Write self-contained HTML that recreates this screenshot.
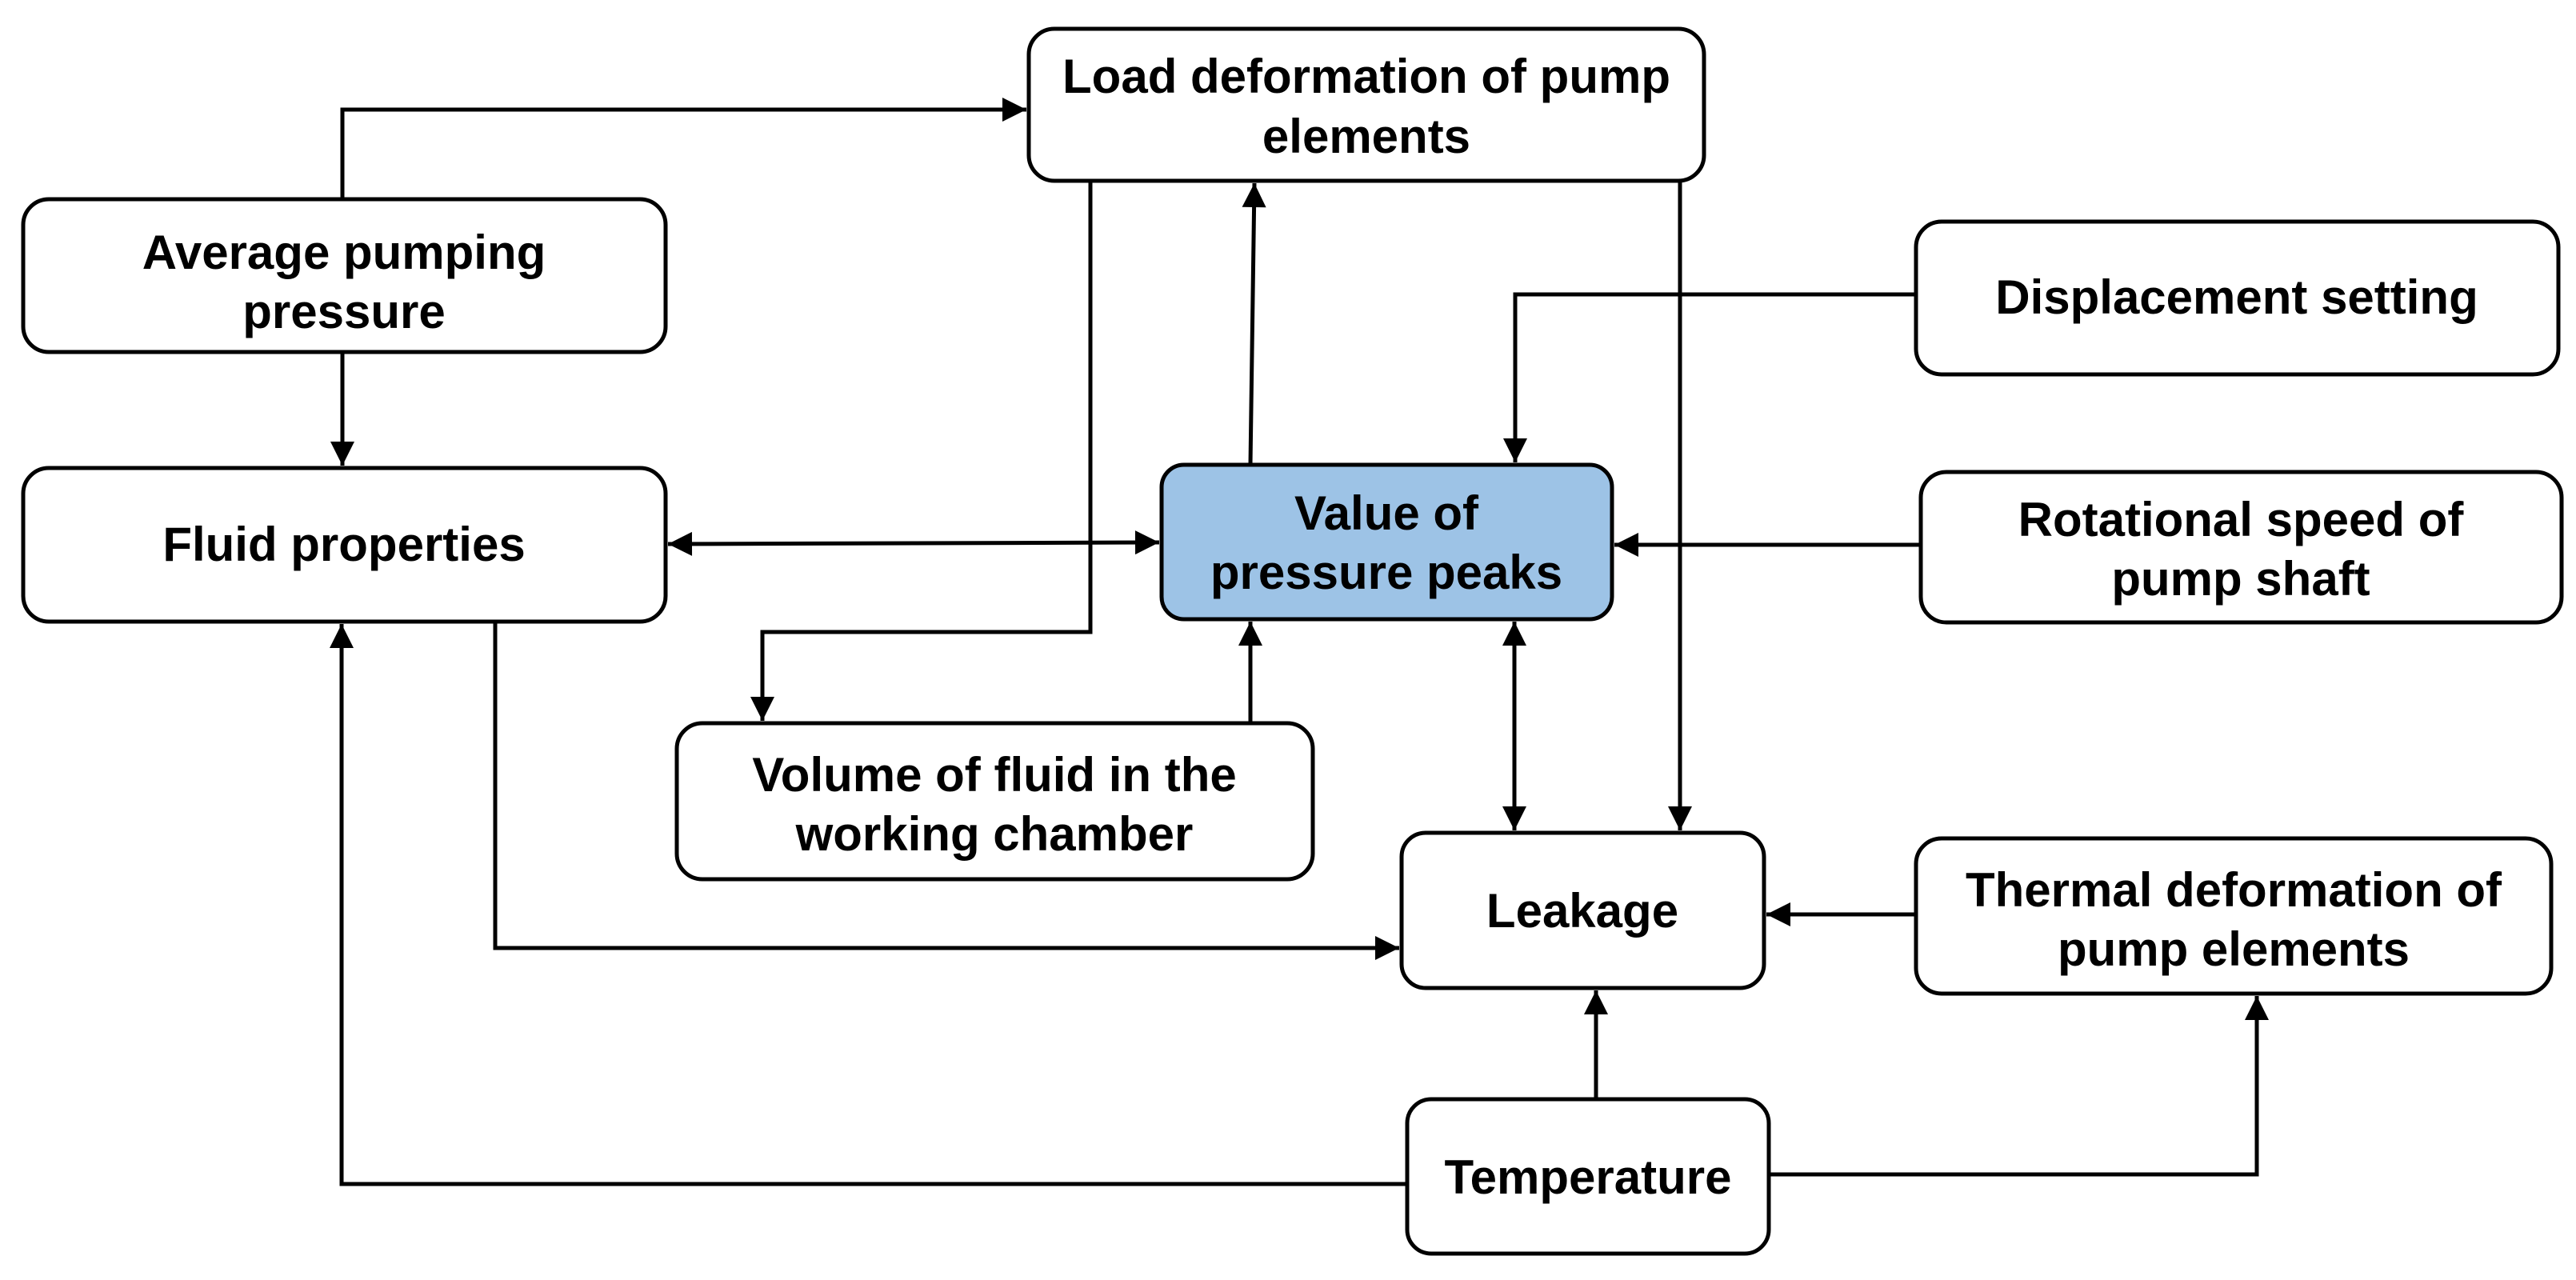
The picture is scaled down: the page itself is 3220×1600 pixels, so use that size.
<!DOCTYPE html>
<html><head><meta charset="utf-8"><style>
html,body{margin:0;padding:0;background:#fff;}
svg{display:block;}
text{font-family:"Liberation Sans",Arial,sans-serif;font-weight:bold;font-size:60px;fill:#000;text-anchor:middle;}
</style></head><body>
<svg width="3220" height="1600" viewBox="0 0 3220 1600" xmlns="http://www.w3.org/2000/svg">
<defs>
<marker id="a" viewBox="0 0 10 10" refX="10" refY="5" markerWidth="6.5" markerHeight="6" markerUnits="strokeWidth" orient="auto-start-reverse">
<path d="M0,0 L10,5 L0,10 z" fill="#000"/>
</marker>
</defs>
<g fill="#fff" stroke="#000" stroke-width="5">
<rect x="1286" y="36" width="844" height="190" rx="32"/>
<rect x="29" y="249" width="803" height="191" rx="32"/>
<rect x="29" y="585" width="803" height="192" rx="32"/>
<rect x="1452" y="581" width="563" height="193" rx="28" fill="#9dc3e6"/>
<rect x="2395" y="277" width="803" height="191" rx="32"/>
<rect x="2401" y="590" width="801" height="188" rx="32"/>
<rect x="846" y="904" width="795" height="195" rx="32"/>
<rect x="1752" y="1041" width="453" height="194" rx="30"/>
<rect x="2395" y="1048" width="794" height="194" rx="32"/>
<rect x="1759" y="1374" width="452" height="193" rx="30"/>
</g>
<g fill="none" stroke="#000" stroke-width="5">
<polyline points="428,249 428,137 1283,137" marker-end="url(#a)"/>
<line x1="428" y1="440" x2="428" y2="582" marker-end="url(#a)"/>
<polyline points="1363,226 1363,790 953,790 953,901" marker-end="url(#a)"/>
<line x1="1563" y1="581" x2="1568" y2="229" marker-end="url(#a)"/>
<line x1="835" y1="680" x2="1449" y2="678" marker-start="url(#a)" marker-end="url(#a)"/>
<polyline points="2395,368 1894,368 1894,578" marker-end="url(#a)"/>
<line x1="2401" y1="681" x2="2018" y2="681" marker-end="url(#a)"/>
<line x1="1563" y1="904" x2="1563" y2="777" marker-end="url(#a)"/>
<line x1="1893" y1="777" x2="1893" y2="1038" marker-start="url(#a)" marker-end="url(#a)"/>
<line x1="2100" y1="226" x2="2100" y2="1038" marker-end="url(#a)"/>
<polyline points="619,777 619,1185 1749,1185" marker-end="url(#a)"/>
<line x1="2395" y1="1143" x2="2208" y2="1143" marker-end="url(#a)"/>
<line x1="1995" y1="1374" x2="1995" y2="1238" marker-end="url(#a)"/>
<polyline points="2211,1468 2821,1468 2821,1245" marker-end="url(#a)"/>
<polyline points="1759,1480 427,1480 427,780" marker-end="url(#a)"/>
</g>
<text x="1708" y="116">Load deformation of pump</text>
<text x="1708" y="191">elements</text>
<text x="430" y="336">Average pumping</text>
<text x="430" y="410">pressure</text>
<text x="430" y="701">Fluid properties</text>
<text x="1733" y="662">Value of</text>
<text x="1733" y="736">pressure peaks</text>
<text x="2796" y="392">Displacement setting</text>
<text x="2801" y="670">Rotational speed of</text>
<text x="2801" y="744">pump shaft</text>
<text x="1243" y="989">Volume of fluid in the</text>
<text x="1243" y="1063">working chamber</text>
<text x="1978" y="1159">Leakage</text>
<text x="2792" y="1133">Thermal deformation of</text>
<text x="2792" y="1207">pump elements</text>
<text x="1985" y="1492">Temperature</text>
</svg>
</body></html>
